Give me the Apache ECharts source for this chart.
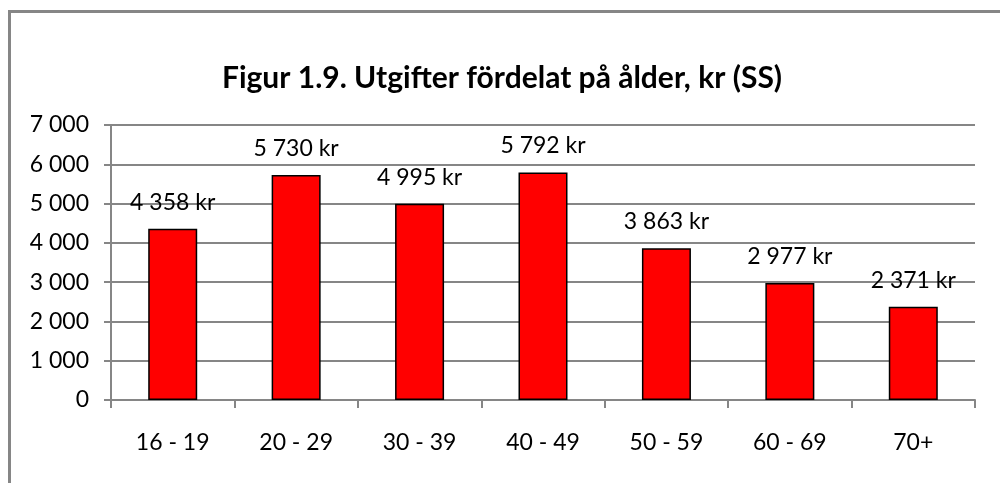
<!DOCTYPE html>
<html>
<head>
<meta charset="utf-8">
<script src="https://cdn.jsdelivr.net/npm/echarts@6/dist/echarts.min.js"></script>
<style>
	html, body { margin: 0; padding: 0; background: #fff; }
	#container { width: 1000px; height: 483px; position: relative; }
	#frame { position: absolute; left: 8px; top: 10px; width: 1000px; height: 500px; border-left: 3px solid #868686; border-top: 3px solid #868686; box-sizing: border-box; pointer-events: none; }
</style>
</head>
<body>
<div id="container"></div>
<div id="frame"></div>
<script>
var categories = ['16 - 19', '20 - 29', '30 - 39', '40 - 49', '50 - 59', '60 - 69', '70+'];
var values = [4358, 5730, 4995, 5792, 3863, 2977, 2371];
var yTicks = [0, 1000, 2000, 3000, 4000, 5000, 6000, 7000];

function fmt(v) {
	return String(v).replace(/\B(?=(\d{3})+(?!\d))/g, ' ');
}

var dom = document.getElementById('container');
var myChart = echarts.init(dom);
var option = {
	animation: false,
	title: {
		text: 'Figur 1.9. Utgifter fördelat på ålder, kr (SS)',
		left: 497,
		textAlign: 'center',
		top: 58,
		textStyle: {
			fontFamily: 'Lato',
			fontWeight: 'bold',
			fontSize: 30,
			color: '#000'
		}
	},
	grid: {
		left: 111,
		right: 25,
		top: 125,
		bottom: 83
	},
	xAxis: {
		type: 'category',
		data: categories,
		axisLine: { lineStyle: { color: '#868686', width: 2 } },
		axisTick: { show: true, length: 8, lineStyle: { color: '#868686', width: 2 } },
		axisLabel: {
			margin: 31,
			color: '#000',
			fontFamily: 'Lato',
			fontSize: 23
		}
	},
	yAxis: {
		type: 'value',
		min: yTicks[0],
		max: yTicks[yTicks.length - 1],
		interval: 1000,
		axisLine: { show: true, lineStyle: { color: '#868686', width: 2 } },
		axisTick: { show: true, length: 7, lineStyle: { color: '#868686', width: 2 } },
		splitLine: { lineStyle: { color: '#868686', width: 2 } },
		axisLabel: {
			margin: 22,
			color: '#000',
			fontFamily: 'Lato',
			fontSize: 23,
			formatter: function(v) { return fmt(v); }
		}
	},
	series: [{
		type: 'bar',
		data: values,
		barWidth: 49,
		itemStyle: {
			color: '#ff0000',
			borderColor: '#000',
			borderWidth: 1.5
		},
		label: {
			show: true,
			position: 'top',
			distance: 15,
			color: '#000',
			fontFamily: 'Lato',
			fontSize: 23,
			formatter: function(p) { return fmt(p.value) + ' kr'; }
		}
	}]
};
myChart.setOption(option, true);
</script>
</body>
</html>
